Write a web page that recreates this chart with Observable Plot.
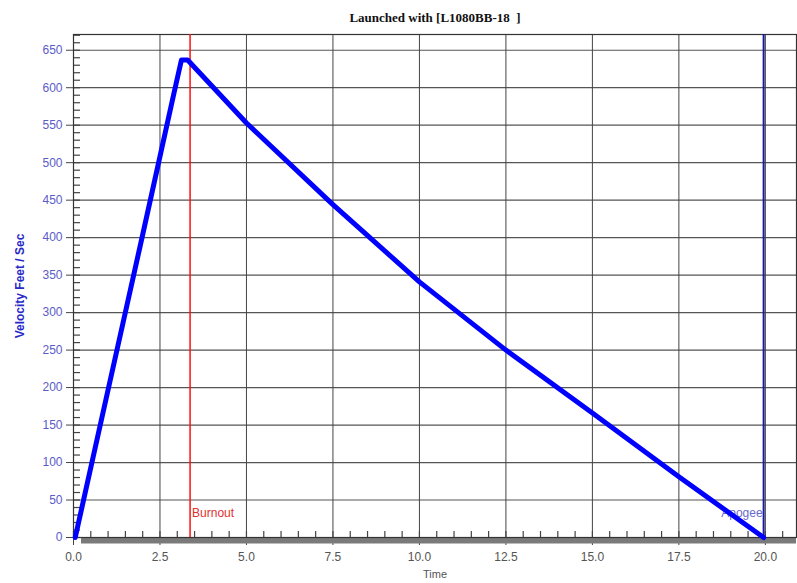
<!DOCTYPE html>
<html>
<head>
<meta charset="utf-8">
<script src="https://cdn.jsdelivr.net/npm/d3@7"></script>
<script src="https://cdn.jsdelivr.net/npm/@observablehq/plot@0.6"></script>
<style>
  html, body { margin: 0; padding: 0; background: #fff; }
  #title { height: 28px; width: 797px; font-family: "Liberation Serif", "DejaVu Serif", serif; font-weight: bold; font-size: 13px; color: #111; box-sizing: border-box; padding-left: 73px; text-align: center; line-height: 35px; }
  #chart svg { display: block; }
</style>
</head>
<body>
<div id="title">Launched with [L1080BB-18&nbsp;&nbsp;]</div>
<div id="chart"></div>
<script>
// Flight data
const time     = [0.05, 1.0, 2.0, 2.91, 3.12, 3.30, 5.0, 7.5, 10.0, 12.5, 15.0, 17.5, 19.95];
const velocity = [0,    197, 404, 594,  637,  637,  553, 444, 341,  250,  166,  81,   0];

// Events
const eventNames = ["Burnout", "Apogee"];
const eventTimes = [3.37, 19.95];

// Axis ticks
const xTicks = [0, 2.5, 5, 7.5, 10, 12.5, 15, 17.5, 20];
const xMinorTicks = d3.range(0, 20.9, 0.5);
const yTicks = [0, 50, 100, 150, 200, 250, 300, 350, 400, 450, 500, 550, 600, 650];
const yMinorTicks = d3.range(0, 671, 10);

const data = time.map((t, i) => ({t, v: velocity[i]}));
const events = eventNames.map((name, i) => ({name, t: eventTimes[i]}));

const chart = Plot.plot({
  width: 797,
  height: 555,
  marginLeft: 73,
  marginRight: 1,
  marginTop: 6,
  marginBottom: 46,
  style: {fontFamily: "'Liberation Sans', Arial, sans-serif", fontSize: "12px", background: "#fff"},
  x: {domain: [0, 20.9]},
  y: {domain: [0, 671]},
  marks: [
    Plot.gridY(yTicks, {stroke: "#555", strokeOpacity: 1, strokeWidth: 1.2}),
    Plot.gridX(xTicks, {stroke: "#444", strokeOpacity: 1, strokeWidth: 1}),
    Plot.axisY(yMinorTicks, {tickSize: -7, tickFormat: () => "", stroke: "#444", strokeWidth: 1.2, label: null}),
    Plot.axisX(xMinorTicks, {tickSize: -6, tickFormat: () => "", stroke: "#444", strokeWidth: 1.2, label: null}),
    Plot.axisY(yTicks, {tickSize: 7, tickPadding: 4, stroke: "#444", fill: "#5b5bc8", fontSize: 12,
      label: "Velocity Feet / Sec", labelAnchor: "center", labelArrow: "none", labelOffset: 58}),
    Plot.axisX(xTicks, {tickSize: 8, tickPadding: 7, stroke: "#444", fill: "#555", fontSize: 12,
      tickFormat: d3.format(".1f"),
      label: "Time", labelAnchor: "center", labelArrow: "none", labelOffset: 40}),
    Plot.ruleY([0], {stroke: "#7a7a7a", strokeWidth: 6, dy: 3, insetLeft: 8}),
    Plot.frame({stroke: "#333", strokeWidth: 1.2}),
    Plot.ruleX(events.slice(0, 1), {x: "t", stroke: "#ff1010", strokeWidth: 1.5}),
    Plot.ruleX(events.slice(1), {x: "t", stroke: "#1a1aa0", strokeWidth: 2}),
    Plot.text(events.slice(0, 1), {x: "t", y: () => 0, text: "name", textAnchor: "start", dx: 2, dy: -24, fill: "#e03030", fontSize: 12}),
    Plot.text(events.slice(1), {x: "t", y: () => 0, text: "name", textAnchor: "end", dx: -1, dy: -24, fill: "#6a6acc", fontSize: 12}),
    Plot.line(data, {x: "t", y: "v", stroke: "#0000ff", strokeWidth: 5, strokeLinejoin: "round", strokeLinecap: "round"})
  ]
});

// style the y-axis label (bold, blue)
chart.querySelectorAll("g[aria-label='y-axis label']").forEach(el => {
  el.setAttribute("fill", "#2828c8");
  el.setAttribute("font-weight", "bold");
});
chart.querySelectorAll("g[aria-label='x-axis label']").forEach(el => {
  el.setAttribute("fill", "#555");
  el.setAttribute("font-size", "11");
});
document.getElementById("chart").appendChild(chart);
</script>
</body>
</html>
